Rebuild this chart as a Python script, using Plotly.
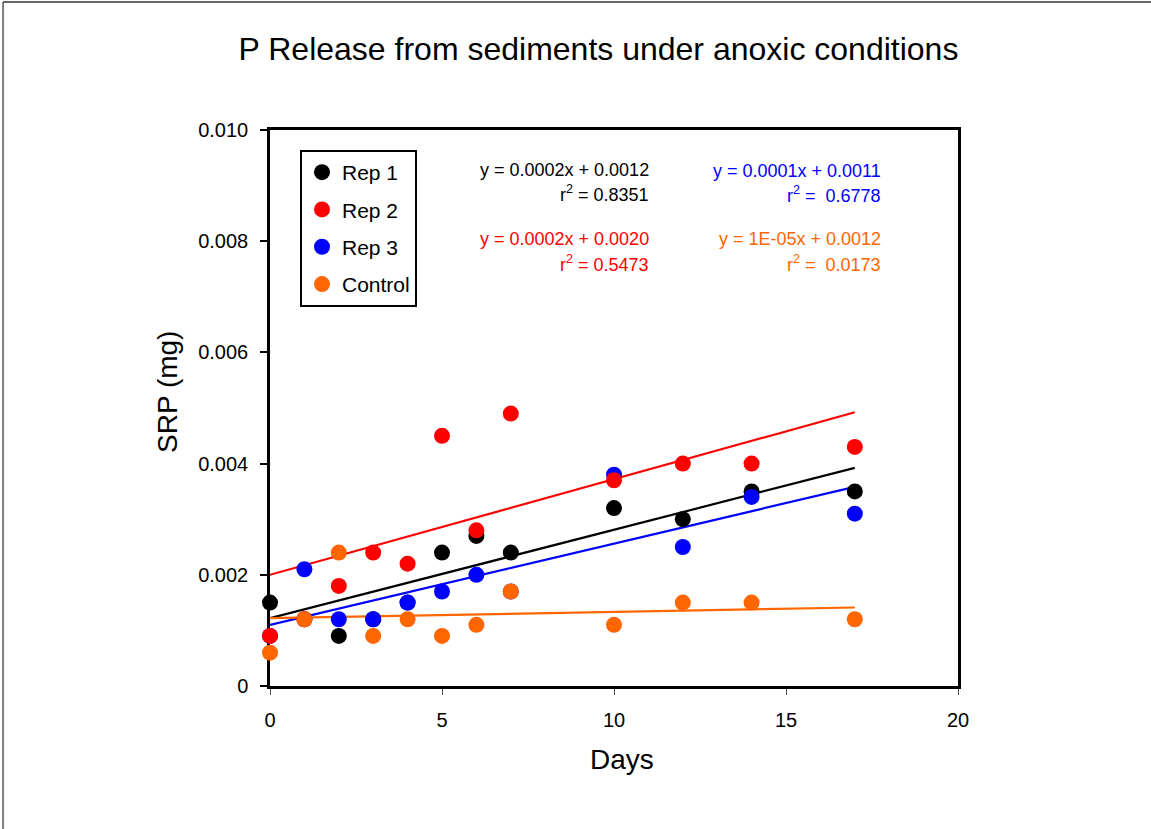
import plotly.graph_objects as go
import numpy as np

# ---- data ----
days = [0, 1, 2, 3, 4, 5, 6, 7, 10, 12, 14, 17]
rep1 = [0.0015, 0.0012, 0.0009, 0.0012, 0.0015, 0.0024, 0.0027, 0.0024, 0.0032, 0.0030, 0.0035, 0.0035]
rep2 = [0.0009, 0.0012, 0.0018, 0.0024, 0.0022, 0.0045, 0.0028, 0.0049, 0.0037, 0.0040, 0.0040, 0.0043]
rep3 = [0.0009, 0.0021, 0.0012, 0.0012, 0.0015, 0.0017, 0.0020, 0.0017, 0.0038, 0.0025, 0.0034, 0.0031]
control = [0.0006, 0.0012, 0.0024, 0.0009, 0.0012, 0.0009, 0.0011, 0.0017, 0.0011, 0.0015, 0.0015, 0.0012]

series_names = ["Rep 1", "Rep 2", "Rep 3", "Control"]
series_values = [rep1, rep2, rep3, control]
series_colors = ["#000000", "#FF0000", "#0000FF", "#FF6600"]

# trend lines (slope, intercept)
fit_slope = [0.000159, 0.000172, 0.000146, 0.0000113]
fit_intercept = [0.00122, 0.00200, 0.00110, 0.00122]
eq_text = ["y = 0.0002x + 0.0012", "y = 0.0002x + 0.0020", "y = 0.0001x + 0.0011", "y = 1E-05x + 0.0012"]
r2_text = ["r<sup>2</sup> = 0.8351", "r<sup>2</sup> = 0.5473", "r<sup>2</sup> =  0.6778", "r<sup>2</sup> =  0.0173"]

y_tickvals = [0, 0.002, 0.004, 0.006, 0.008, 0.010]
y_ticktext = ["0", "0.002", "0.004", "0.006", "0.008", "0.010"]
x_tickvals = [0, 5, 10, 15, 20]

FONT = "Liberation Sans, Arial, sans-serif"

fig = go.Figure()

# trend lines first (under markers)
x_line = np.array([min(days), max(days)], dtype=float)
for i in range(4):
    fig.add_trace(go.Scatter(
        x=x_line, y=fit_intercept[i] + fit_slope[i] * x_line,
        mode="lines", line=dict(color=series_colors[i], width=2.2),
        showlegend=False, hoverinfo="skip", cliponaxis=False))

# markers: draw order black, blue, red, orange
draw_order = [0, 2, 1, 3]
for i in draw_order:
    fig.add_trace(go.Scatter(
        x=days, y=series_values[i], mode="markers", name=series_names[i],
        marker=dict(color=series_colors[i], size=16, line=dict(width=0)),
        legendrank=i + 1, legendgroup=series_names[i], cliponaxis=False))

# equation annotations (right aligned)
eq_pos = [(0.554, 0.928, 0.886), (0.554, 0.804, 0.760), (0.891, 0.926, 0.884), (0.891, 0.804, 0.759)]
for i, (xp, y1, y2) in enumerate(eq_pos):
    fig.add_annotation(x=xp, y=y1, xref="paper", yref="paper", text=eq_text[i],
                       showarrow=False, xanchor="right", yanchor="middle",
                       font=dict(family=FONT, size=18, color=series_colors[i]))
    fig.add_annotation(x=xp, y=y2, xref="paper", yref="paper", text=r2_text[i],
                       showarrow=False, xanchor="right", yanchor="middle",
                       font=dict(family=FONT, size=18, color=series_colors[i]))

# axis titles
fig.add_annotation(x=0.5116, y=-0.1313, xref="paper", yref="paper", text="Days",
                   showarrow=False, xanchor="center", yanchor="middle",
                   font=dict(family=FONT, size=28, color="black"))
fig.add_annotation(x=-0.1483, y=0.5288, xref="paper", yref="paper", text="SRP (mg)",
                   showarrow=False, xanchor="center", yanchor="middle", textangle=-90,
                   font=dict(family=FONT, size=28, color="black"))

# page border (top and left visible)
fig.add_shape(type="line", xref="paper", yref="paper", x0=-0.388, x1=-0.388, y0=-0.4, y1=1.2302,
              line=dict(color="#7f7f7f", width=2))
fig.add_shape(type="line", xref="paper", yref="paper", x0=-0.388, x1=1.4, y0=1.2302, y1=1.2302,
              line=dict(color="#333333", width=1.5))

fig.update_layout(
    width=1151, height=829,
    margin=dict(l=270, r=193, t=130, b=143),
    paper_bgcolor="white", plot_bgcolor="white",
    font=dict(family=FONT, color="black"),
    title=dict(text="P Release from sediments under anoxic conditions",
               x=598.5 / 1151, xanchor="center", y=1 - 49 / 829, yanchor="middle",
               yref="container", font=dict(family=FONT, size=32, color="black")),
    showlegend=True,
    legend=dict(x=0.0436, y=0.964, xanchor="left", yanchor="top",
                bordercolor="black", borderwidth=2, bgcolor="white",
                font=dict(family=FONT, size=21, color="black"),
                tracegroupgap=7, itemsizing="trace"),
    xaxis=dict(range=[0, 20], tickvals=x_tickvals, ticks="outside", ticklen=6, tickwidth=1,
               tickcolor="#555555", showline=True, linecolor="black", linewidth=2.5, mirror=True,
               showgrid=False, zeroline=False, layer="below traces",
               tickfont=dict(family=FONT, size=20, color="black"), ticklabelstandoff=8),
    yaxis=dict(range=[0, 0.010], tickvals=y_tickvals, ticktext=y_ticktext, ticks="outside",
               ticklen=7, tickwidth=2, tickcolor="black", showline=True, linecolor="black",
               linewidth=2.5, mirror=True, showgrid=False, zeroline=False, layer="below traces",
               tickfont=dict(family=FONT, size=20, color="black"), ticklabelstandoff=8),
)

fig.write_html("out.html")
